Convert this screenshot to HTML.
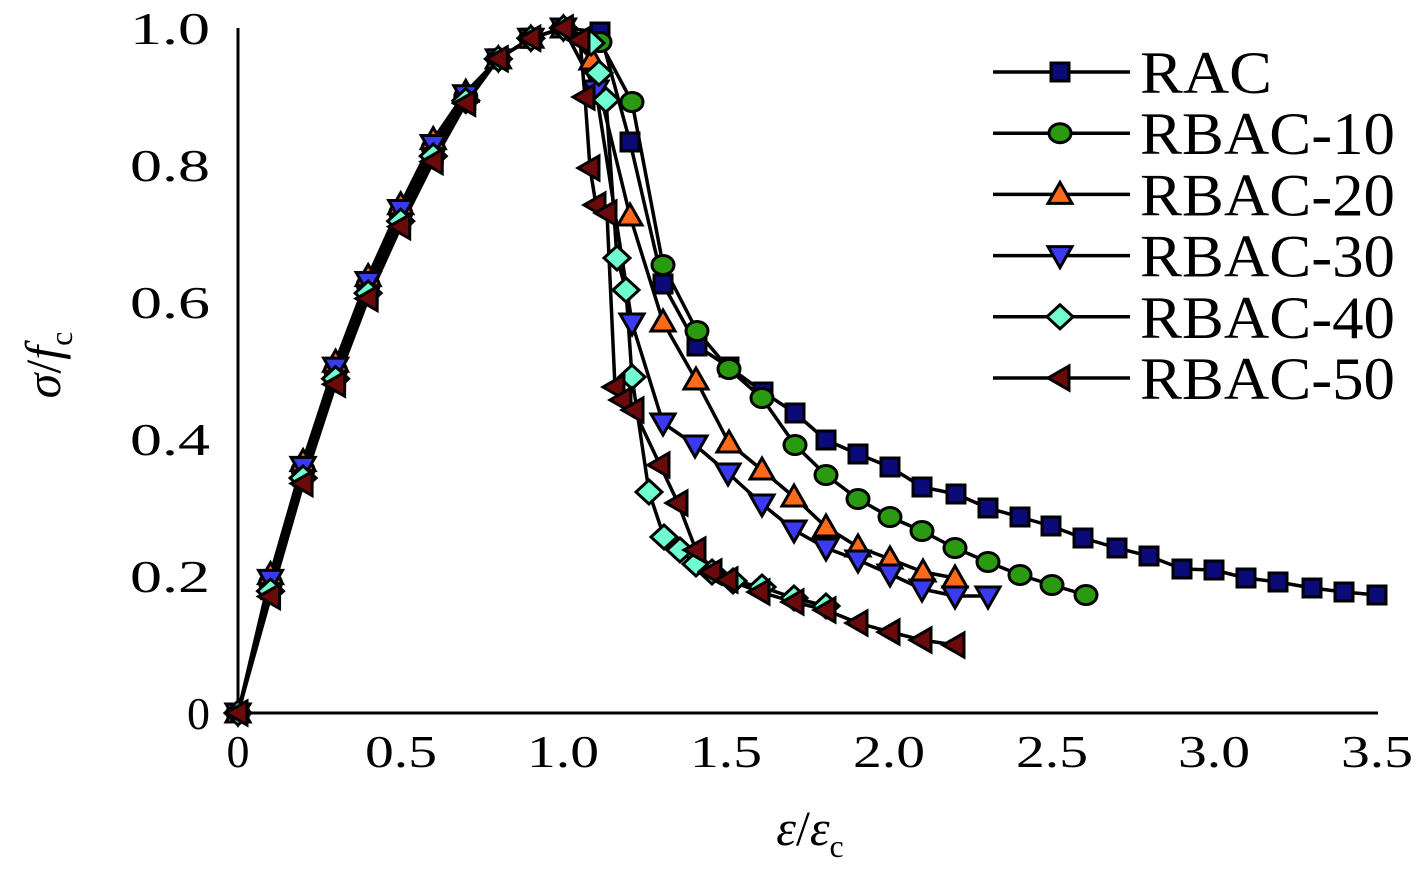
<!DOCTYPE html>
<html><head><meta charset="utf-8"><style>
html,body{margin:0;padding:0;background:#fff;}
svg{display:block;font-family:"Liberation Serif",serif;}
</style></head><body>
<svg id="s" width="1417" height="874" xmlns="http://www.w3.org/2000/svg">
<g id="axes" stroke="#000" stroke-width="3" fill="none">
<line x1="238" y1="28" x2="238" y2="713"/>
<line x1="238" y1="713" x2="1378" y2="713"/>
</g>
<g font-size="46" text-anchor="end" fill="#000">
<text x="210" y="729">0</text><text x="210" y="592" textLength="80" lengthAdjust="spacingAndGlyphs">0.2</text><text x="210" y="455" textLength="80" lengthAdjust="spacingAndGlyphs">0.4</text>
<text x="210" y="318" textLength="80" lengthAdjust="spacingAndGlyphs">0.6</text><text x="210" y="181" textLength="80" lengthAdjust="spacingAndGlyphs">0.8</text><text x="210" y="44" textLength="80" lengthAdjust="spacingAndGlyphs">1.0</text>
</g>
<g font-size="46" text-anchor="middle" fill="#000">
<text x="238" y="767">0</text><text x="401" y="767" textLength="72" lengthAdjust="spacingAndGlyphs">0.5</text><text x="563" y="767" textLength="72" lengthAdjust="spacingAndGlyphs">1.0</text>
<text x="726" y="767" textLength="72" lengthAdjust="spacingAndGlyphs">1.5</text><text x="889" y="767" textLength="72" lengthAdjust="spacingAndGlyphs">2.0</text><text x="1052" y="767" textLength="72" lengthAdjust="spacingAndGlyphs">2.5</text>
<text x="1214" y="767" textLength="72" lengthAdjust="spacingAndGlyphs">3.0</text><text x="1377" y="767" textLength="72" lengthAdjust="spacingAndGlyphs">3.5</text>
</g>
<text x="810" y="845" font-size="50" text-anchor="middle"><tspan font-style="italic">ε</tspan>/<tspan font-style="italic">ε</tspan><tspan font-size="32" dy="12">c</tspan></text>
<text transform="translate(60,365) rotate(-90)" font-size="50" text-anchor="middle"><tspan font-style="italic">σ</tspan>/<tspan font-style="italic">f</tspan><tspan font-size="32" dy="12">c</tspan></text>
<g id="plot"></g>
<g id="leg" font-size="60"></g>
</svg>
<script>
const X=v=>238+325.4*v, Y=v=>713-685*v;
const asc=(d)=>[[0,0],[0.1,0.19+d],[0.2,0.355+d],[0.3,0.5+d],[0.4,0.625+d],[0.5,0.73+d],[0.6,0.825+d],[0.7,0.9+d/2],[0.8,0.955],[0.9,0.985],[1.0,1.0]].map(p=>[X(p[0]),Y(p[1])]);
const S=[
{n:'RAC',m:'sq',c:'#0a0a78',p:asc(-0.01).concat([[600,32],[630,142],[663,284],[697,346],[729,367],[763,392],[795,413],[826,440],[858,454],[890,467],[922,487],[956,494],[988,508],[1020,517],[1051,526],[1083,538],[1117,548],[1149,556],[1182,569],[1214,570],[1246,578],[1278,582],[1312,588],[1344,592],[1377,595]])},
{n:'RBAC-10',m:'ci',c:'#2a9a10',p:asc(0).concat([[600,42],[632,102],[663,265],[697,331],[729,369],[762,398],[795,445],[826,475],[858,499],[890,517],[922,531],[955,548],[988,562],[1020,575],[1052,585],[1086,595]])},
{n:'RBAC-20',m:'tu',c:'#ff6a1a',p:asc(0.012).concat([[592,60],[630,216],[663,322],[696,380],[729,443],[762,470],[794,497],[826,527],[858,547],[890,559],[923,572],[955,578]])},
{n:'RBAC-30',m:'td',c:'#3a3af0',p:asc(0.005).concat([[596,90],[632,323],[663,423],[695,445],[728,473],[762,504],[794,530],[826,548],[858,560],[890,574],[922,589],[955,596],[988,596]])},
{n:'RBAC-40',m:'di',c:'#70ffd0',p:asc(-0.012).concat([[591,43],[599,73],[606,100],[617,258],[626,290],[632,377],[649,492],[664,537],[680,550],[696,564],[712,572],[733,581],[762,587],[794,598],[826,606]])},
{n:'RBAC-50',m:'tl',c:'#6a0a0a',p:asc(-0.02).concat([[580,40],[585,97],[590,168],[596,205],[607,213],[615,387],[622,400],[634,410],[660,465],[678,503],[696,550],[712,572],[728,580],[760,592],[794,602],[826,610],[858,623],[890,632],[922,640],[955,645]])}
];
function mk(m,x,y,c){
 const st=`fill="${c}" stroke="#000" stroke-width="3"`;
 if(m=='sq')return `<rect x="${x-9}" y="${y-9}" width="18" height="18" ${st}/>`;
 if(m=='ci')return `<ellipse cx="${x}" cy="${y}" rx="11" ry="9.5" ${st}/>`;
 if(m=='tu')return `<polygon points="${x},${y-12} ${x+12},${y+9} ${x-12},${y+9}" ${st}/>`;
 if(m=='td')return `<polygon points="${x},${y+12} ${x+12},${y-9} ${x-12},${y-9}" ${st}/>`;
 if(m=='di')return `<polygon points="${x},${y-12} ${x+13},${y} ${x},${y+12} ${x-13},${y}" ${st}/>`;
 return `<polygon points="${x-12},${y} ${x+9},${y-12} ${x+9},${y+12}" ${st}/>`;
}
let h='';
S.forEach(s=>{h+=`<polyline points="${s.p.map(p=>p.join(',')).join(' ')}" fill="none" stroke="#000" stroke-width="3.5" stroke-linejoin="round"/>`;});
S.forEach(s=>{s.p.forEach(p=>h+=mk(s.m,p[0],p[1],s.c));});
document.getElementById('plot').innerHTML=h;
let l='';
S.forEach((s,i)=>{const y=72+61.2*i;const tl=s.n=='RAC'?132:255;l+=`<line x1="993" y1="${y}" x2="1130" y2="${y}" stroke="#000" stroke-width="3.5"/>`+mk(s.m,1060,y,s.c)+`<text x="1140" y="${y+21}" textLength="${tl}" lengthAdjust="spacingAndGlyphs">${s.n}</text>`;});
document.getElementById('leg').innerHTML=l;
</script>
</body></html>
